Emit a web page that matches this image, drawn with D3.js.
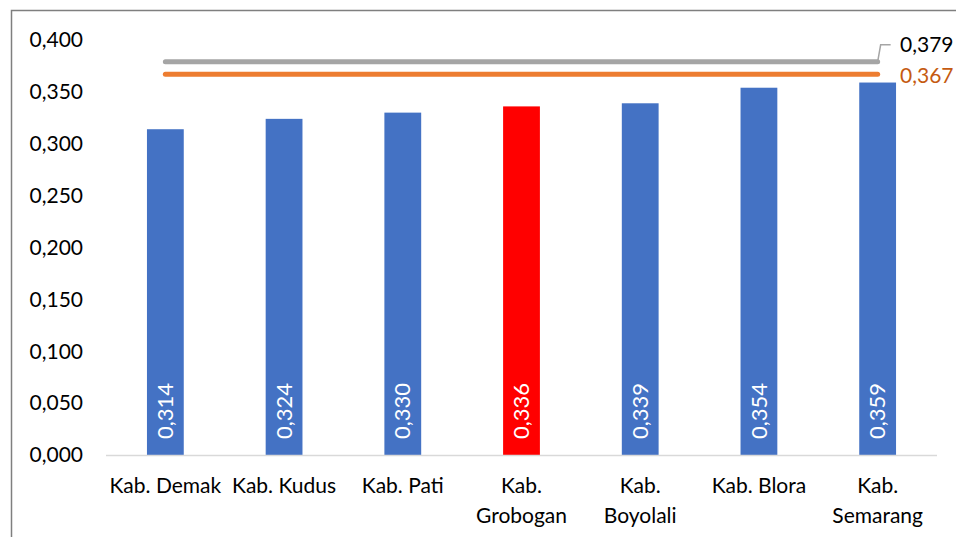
<!DOCTYPE html>
<html>
<head>
<meta charset="utf-8">
<script src="https://cdn.jsdelivr.net/npm/d3@7"></script>
<style>
  body { margin: 0; background: #fff; }
  text { font-family: Lato, "Open Sans", sans-serif; }
</style>
</head>
<body>
<script>
// data
var categories = ["Kab. Demak", "Kab. Kudus", "Kab. Pati", "Kab. Grobogan", "Kab. Boyolali", "Kab. Blora", "Kab. Semarang"];
var values = [0.314, 0.324, 0.330, 0.336, 0.339, 0.354, 0.359];
var highlight = "Kab. Grobogan";
var refLines = [
  { name: "a", value: 0.379, color: "#a5a5a5", label: "0,379", labelColor: "#000" },
  { name: "b", value: 0.367, color: "#ed7d31", label: "0,367", labelColor: "#c55a11" }
];
var yTicks = [0, 0.05, 0.1, 0.15, 0.2, 0.25, 0.3, 0.35, 0.4];

var width = 956,
    height = 537;

var svg = d3.select("body").append("svg")
    .attr("width", width)
    .attr("height", height);

// frame
svg.append("path")
    .attr("d", "M11.5," + height + "V10.5H" + width)
    .attr("fill", "none")
    .attr("stroke", "#7f7f7f")
    .attr("stroke-width", 1.5);

var x = d3.scaleBand()
    .domain(categories)
    .range([106, 937])
    .paddingInner(0.69)
    .paddingOuter(0.345);

var y = d3.scaleLinear()
    .domain([0, 0.4])
    .range([455, 40]);

var fmt = function(v) { return d3.format(".3f")(v).replace(".", ","); };

// y axis labels
svg.append("g")
  .selectAll("text")
  .data(yTicks)
  .enter().append("text")
    .attr("x", 83)
    .attr("y", function(d) { return y(d); })
    .attr("dy", "0.35em")
    .attr("text-anchor", "end")
    .attr("font-size", 21)
    .attr("fill", "#000")
    .text(fmt);

// bars
svg.append("g")
  .selectAll("rect")
  .data(values)
  .enter().append("rect")
    .attr("x", function(d, i) { return x(categories[i]); })
    .attr("y", function(d) { return y(d); })
    .attr("width", x.bandwidth())
    .attr("height", function(d) { return y(0) - y(d); })
    .attr("fill", function(d, i) { return categories[i] === highlight ? "#ff0000" : "#4472c4"; });

// baseline
svg.append("line")
    .attr("x1", 106).attr("x2", 937)
    .attr("y1", y(0) + 0.5).attr("y2", y(0) + 0.5)
    .attr("stroke", "#d9d9d9")
    .attr("stroke-width", 1.5);

// value labels inside bars
svg.append("g")
  .selectAll("text")
  .data(values)
  .enter().append("text")
    .attr("transform", function(d, i) {
      return "translate(" + (x(categories[i]) + x.bandwidth() / 2) + "," + (y(0) - 16) + ") rotate(-90)";
    })
    .attr("dy", "0.35em")
    .attr("font-size", 22)
    .attr("fill", "#fff")
    .text(fmt);

// reference lines
var x0 = x(categories[0]) + x.bandwidth() / 2,
    x1 = x(categories[categories.length - 1]) + x.bandwidth() / 2;

svg.append("g")
  .selectAll("line")
  .data(refLines)
  .enter().append("line")
    .attr("x1", x0).attr("x2", x1)
    .attr("y1", function(d) { return y(d.value); })
    .attr("y2", function(d) { return y(d.value); })
    .attr("stroke", function(d) { return d.color; })
    .attr("stroke-width", 5)
    .attr("stroke-linecap", "round");

// leader line for top label
svg.append("path")
    .attr("d", "M" + x1 + "," + y(refLines[0].value) + "L" + (x1 + 3) + "," + (y(refLines[0].value) - 17) + "H" + (x1 + 13))
    .attr("fill", "none")
    .attr("stroke", "#a5a5a5")
    .attr("stroke-width", 1.5);

svg.append("text")
    .attr("x", 900)
    .attr("y", y(refLines[0].value) - 17)
    .attr("dy", "0.35em")
    .attr("font-size", 21)
    .attr("fill", refLines[0].labelColor)
    .text(refLines[0].label);

svg.append("text")
    .attr("x", 900)
    .attr("y", y(refLines[1].value) + 1)
    .attr("dy", "0.35em")
    .attr("font-size", 21)
    .attr("fill", refLines[1].labelColor)
    .text(refLines[1].label);

// category labels, the longer names go on two lines
svg.append("g")
  .selectAll("text")
  .data(categories)
  .enter().append("text")
    .attr("y", 486)
    .attr("dy", "0.35em")
    .attr("text-anchor", "middle")
    .attr("font-size", 21)
    .attr("fill", "#000")
    .each(function(d) {
      var t = d3.select(this),
          cx = x(d) + x.bandwidth() / 2;
      if (d.length > 10) {
        var parts = d.split(" ");
        t.append("tspan").attr("x", cx).text(parts[0]);
        t.append("tspan").attr("x", cx).attr("dy", 30).text(parts.slice(1).join(" "));
      } else {
        t.attr("x", cx).text(d);
      }
    });
</script>
</body>
</html>
